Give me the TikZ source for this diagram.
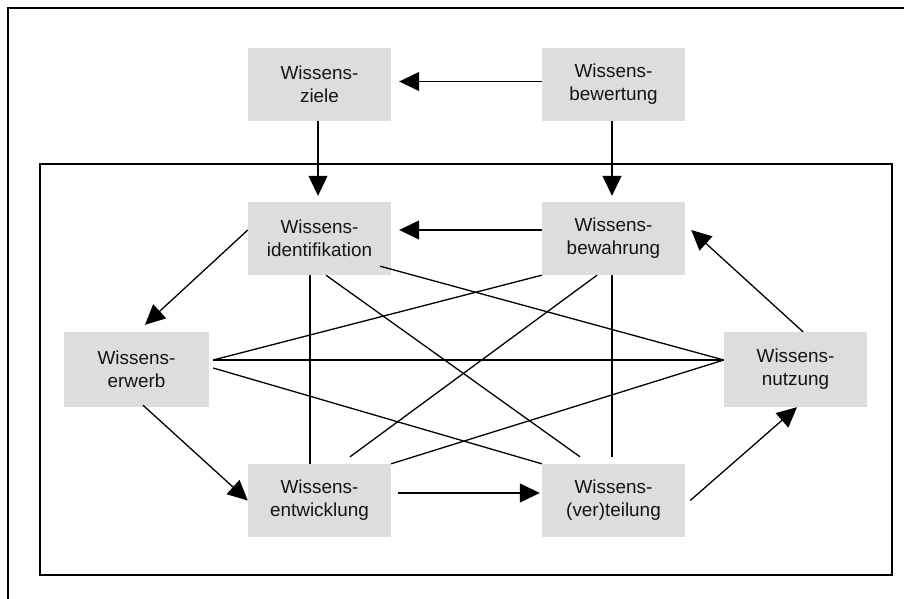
\documentclass[tikz,border=0pt]{standalone}
\usepackage{fontspec}
\setmainfont{Liberation Sans}
\usetikzlibrary{calc,arrows.meta}
\definecolor{boxgray}{RGB}{221,221,221}
\definecolor{inkgray}{RGB}{20,20,20}
\tikzset{
  kbox/.style={rectangle, fill=boxgray, draw=none, inner sep=0pt,
    minimum width=143pt, minimum height=73pt, align=center,
    text=inkgray, font=\fontsize{18.9}{23}\selectfont},
  frameline/.style={line width=1.5pt, draw=black},
  conn/.style={line width=1.3pt, draw=black},
  arr/.style={conn, -{Triangle[length=20pt,width=19pt]}},
}
\begin{document}
\begin{tikzpicture}[x=1pt,y=-1pt]
\useasboundingbox (0,0) rectangle (904,599);
% frames
\draw[frameline] (8,599) -- (8,8) -- (904,8);
\draw[frameline] (40,164) rectangle (892,575);
% boxes
\node[kbox] (ziele)   at (319.5,84.5)  {Wissens-\\ziele};
\node[kbox] (bewert)  at (613.5,84.5)  {Wissens-\\bewertung};
\node[kbox] (ident)   at (319.5,238.5) {Wissens-\\identifikation};
\node[kbox] (bewahr)  at (613.5,238.5) {Wissens-\\bewahrung};
\node[kbox, minimum width=145pt, minimum height=75pt] (erwerb) at (136.5,369.5) {Wissens-\\erwerb};
\node[kbox, minimum height=75pt] (nutzung) at (795.5,369.5) {Wissens-\\nutzung};
\node[kbox] (entw)    at (319.5,500.5) {Wissens-\\entwicklung};
\node[kbox] (vert)    at (613.5,500.5) {Wissens-\\(ver)teilung};
% arrows
\draw[arr] ($(bewert.west)+(0,-3)$) -- ($(ziele.east)+(8,-3)$);
\draw[arr] ($(ziele.south)+(-1.5,0)$) -- ($(ident.north)+(-1.5,-6)$);
\draw[arr] ($(bewert.south)+(-1.5,0)$) -- ($(bewahr.north)+(-1.5,-6)$);
\draw[arr] ($(bewahr.west)+(0,-8.5)$) -- ($(ident.east)+(8,-8.5)$);
\draw[arr] ($(ident.west)+(0,-8.5)$) -- ($(erwerb.north)+(8.5,-7)$);
\draw[arr] ($(erwerb.south)+(6.5,-2)$) -- (entw.west);
\draw[arr] ($(entw.east)+(7,-7.5)$) -- ($(vert.west)+(-2,-7.5)$);
\draw[arr] ($(vert.east)+(5,0)$) -- ($(nutzung.south)+(1.5,0)$);
\draw[arr] ($(nutzung.north)+(7.5,0)$) -- ($(bewahr.east)+(6,-8.5)$);
% plain connectors
\draw[conn] ($(ident.south)+(-9.5,0)$) -- ($(entw.north)+(-9.5,0)$);
\draw[conn] ($(ident.south)+(6.5,0)$) -- ($(vert.north)+(-33.5,-7)$);
\draw[conn] ($(ident.south east)+(-11,-9)$) -- ($(nutzung.west)+(0,-9.5)$);
\draw[conn] ($(bewahr.south)+(-1.5,0)$) -- ($(vert.north)+(-1.5,-7)$);
\draw[conn] ($(bewahr.south)+(-16.5,0)$) -- ($(entw.north)+(30.5,-7)$);
\draw[conn] (bewahr.south west) -- ($(erwerb.east)+(4,-9.5)$);
\draw[conn] ($(erwerb.east)+(4,-9.5)$) -- ($(nutzung.west)+(0,-9.5)$);
\draw[conn] ($(erwerb.east)+(4,-1.5)$) -- (vert.north west);
\draw[conn] (entw.north east) -- ($(nutzung.west)+(0,-9.5)$);
\end{tikzpicture}
\end{document}
